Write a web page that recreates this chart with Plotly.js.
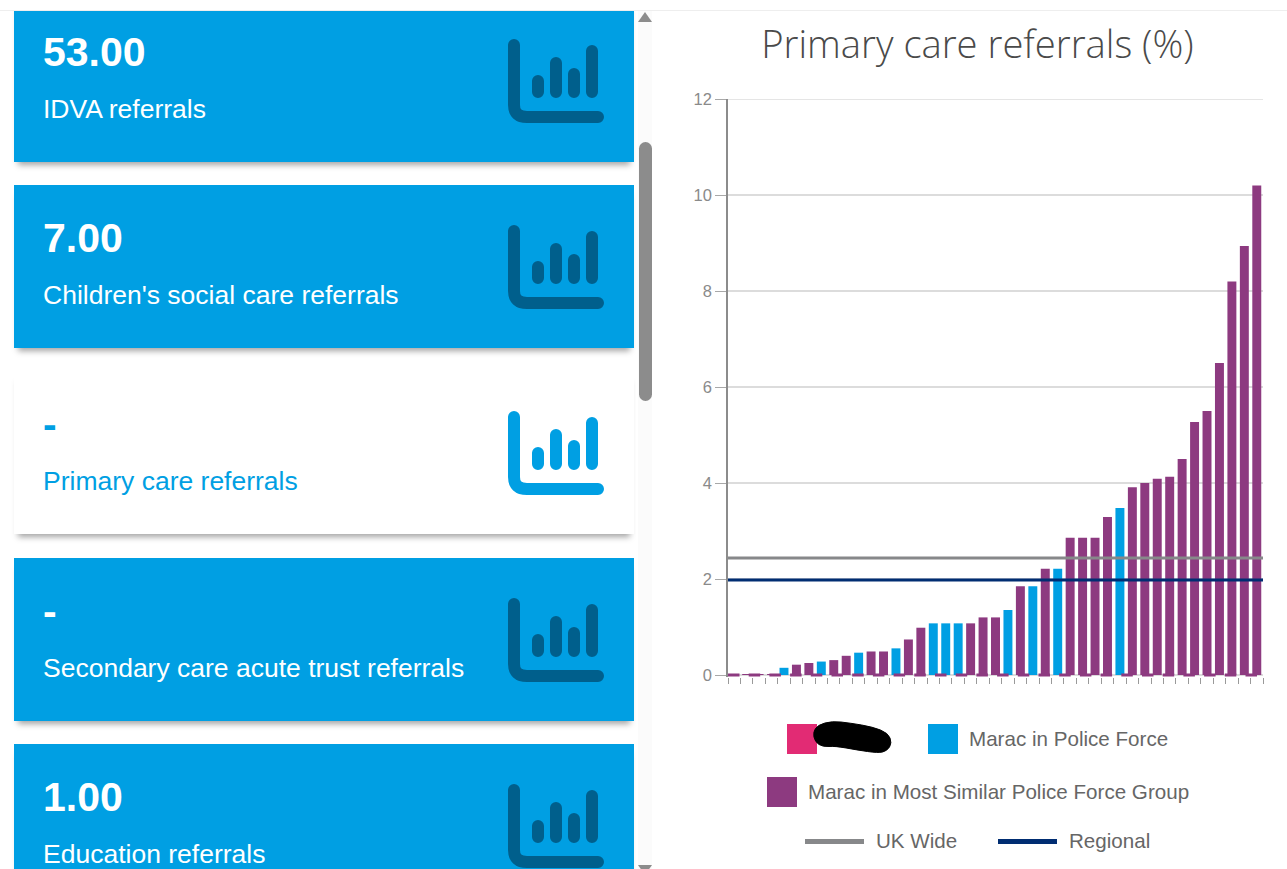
<!DOCTYPE html>
<html><head><meta charset="utf-8">
<script src="https://cdn.plot.ly/plotly-3.0.1.min.js"></script>
<style>
html,body{margin:0;padding:0;background:#fff;width:1287px;height:869px;overflow:hidden;font-family:"Liberation Sans",Arial,sans-serif}
#topline{position:absolute;left:0;top:0;width:1287px;height:10px;background:#fff;border-bottom:1px solid #eee;z-index:3}
#cards{position:absolute;left:0;top:11px;width:636px;height:858px;overflow:hidden}
.card{position:absolute;left:14px;width:620px;height:163px;background:#009fe3;color:#fff;box-shadow:0 7px 6px -4px rgba(0,0,0,.36)}
.card.sel{background:#fff;color:#009fe3}
.val{position:absolute;left:29px;top:30px;font-size:41px;font-weight:700;line-height:46px}
.lab{position:absolute;left:29px;top:94px;font-size:26.5px;line-height:32px;white-space:nowrap}
.card svg{position:absolute;left:490px;top:36px}
#track{position:absolute;left:638px;top:11px;width:14px;height:858px;background:#fbfbfb}
#thumb{position:absolute;left:639px;top:142px;width:13px;height:259px;border-radius:7px;background:#8c8c8c}
.arrow{position:absolute;left:638px;width:0;height:0;border-left:7px solid transparent;border-right:7px solid transparent}
#chart{position:absolute;left:660px;top:0;width:627px;height:869px}
</style></head><body>
<div id="topline"></div>
<div id="cards"></div>
<div id="track"></div><div id="thumb"></div>
<div class="arrow" style="top:12px;border-bottom:10px solid #8c8c8c"></div>
<div class="arrow" style="top:865px;border-top:10px solid #8c8c8c"></div>
<div id="chart"></div>
<script>
// Cards
const cardValues = ["53.00", "7.00", "-", "-", "1.00"];
const cardLabels = ["IDVA referrals", "Children's social care referrals", "Primary care referrals", "Secondary care acute trust referrals", "Education referrals"];
const selectedCard = 2;

// Chart data
const chartTitle = "Primary care referrals (%)";
const values = [0.02,0.02,0.02,0.02,0.15,0.215,0.25,0.28,0.31,0.40,0.465,0.49,0.49,0.555,0.74,0.985,1.076,1.076,1.076,1.076,1.20,1.20,1.354,1.85,1.85,2.215,2.215,2.86,2.86,2.86,3.29,3.48,3.91,4.0,4.09,4.13,4.5,5.27,5.5,6.5,8.2,8.94,10.2];
const inPoliceForce = [0,0,0,0,1,0,0,1,0,0,1,0,0,1,0,0,1,1,1,0,0,0,1,0,1,0,1,0,0,0,0,1,0,0,0,0,0,0,0,0,0,0,0];
const ukWide = 2.44;
const regional = 1.98;
const yTicks = [0,2,4,6,8,10,12];
const legendPolice = "Marac in Police Force";
const legendSimilar = "Marac in Most Similar Police Force Group";
const legendUK = "UK Wide";
const legendRegional = "Regional";

const cBlue="#009fe3", cPurple="#8d3a80", cPink="#e22b74", cGrey="#87888a", cNavy="#002d72";

// Build cards
const host=document.getElementById('cards');
cardValues.forEach((v,i)=>{
  const d=document.createElement('div');
  d.className='card'+(i===selectedCard?' sel':'');
  d.style.top=(-12+186*i+(i>2?1:0))+'px';
  const ic=i===selectedCard?cBlue:'#005f8c';
  d.innerHTML=`<div class="val">${v}</div><div class="lab">${cardLabels[i]}</div>`+
   `<svg width="110" height="95" viewBox="0 0 110 95" fill="none" stroke="${ic}" stroke-width="12" stroke-linecap="round">
     <path d="M10 10V70Q10 82 23 82H94"/>
     <path d="M34 46V57M52 28V57M70 39V57M88 16V57"/></svg>`;
  host.appendChild(d);
});

// Chart: the plot area runs 2px below the zero line so the baseline dashes are not clipped
const L=728,R=1263,T=99,B=677;
const X=p=>(p-L)/(R-L), Y=p=>(B-p)/(B-T);
const idx=values.map((_,i)=>i);
const pick=f=>idx.filter(f);
const blueIdx=pick(i=>inPoliceForce[i]===1), purpleIdx=pick(i=>inPoliceForce[i]===0);
const span=[-0.5,values.length-0.5];
const barTrace=(ids,color,name)=>({type:'bar',name,x:ids,y:ids.map(i=>values[i]),marker:{color,line:{width:0}},hoverinfo:'y'});
const hline=(v,color,name)=>({type:'scatter',mode:'lines',name,x:span,y:[v,v],line:{color,width:3},hoverinfo:'name'});
const traces=[
  barTrace(purpleIdx,cPurple,legendSimilar),
  barTrace(blueIdx,cBlue,legendPolice),
  {type:'scatter',mode:'lines',x:span,y:[0,0],line:{color:cPurple,width:3,dash:'11.5px,9.2px'},hoverinfo:'skip'},
  hline(ukWide,cGrey,legendUK),
  hline(regional,cNavy,legendRegional)
];
const swatch=(x0,y0,color)=>({type:'rect',xref:'paper',yref:'paper',x0:X(x0),x1:X(x0+30),y0:Y(y0+30),y1:Y(y0),fillcolor:color,line:{width:0},layer:'above'});
const seg=(x0,color)=>({type:'rect',xref:'paper',yref:'paper',x0:X(x0),x1:X(x0+59),y0:Y(844),y1:Y(839),fillcolor:color,line:{width:0},layer:'above'});
// redaction scribble outline, smoothed through midpoints
const pts=[[818,725],[832,721],[850,723],[873,727],[888,733],[892,743],[887,751],[878,753],[857,750],[835,746],[823,747],[815,742],[813,732]];
const mid=(a,b)=>[(a[0]+b[0])/2,(a[1]+b[1])/2];
const fmt=p=>X(p[0]).toFixed(4)+','+Y(p[1]).toFixed(4);
let scribble='M'+fmt(mid(pts[pts.length-1],pts[0]));
pts.forEach((p,i)=>{scribble+=' Q'+fmt(p)+' '+fmt(mid(p,pts[(i+1)%pts.length]));});
scribble+=' Z';
const note=(x,y,text)=>({xref:'paper',yref:'paper',x:X(x),y:Y(y),text,showarrow:false,xanchor:'left',yanchor:'middle',font:{family:'Liberation Sans, Arial, sans-serif',size:20.6,color:'#666'}});
const layout={
  width:627,height:869,autosize:false,
  paper_bgcolor:'rgba(0,0,0,0)',plot_bgcolor:'rgba(0,0,0,0)',
  margin:{l:68,r:24,t:99,b:192,pad:0},
  showlegend:false,barmode:'overlay',bargap:0.28,
  title:{text:chartTitle,x:317.5/627,xanchor:'center',y:1-45/869,yanchor:'middle',font:{family:'Open Sans, sans-serif',weight:300,size:38.2,color:'#4a4a4a'}},
  xaxis:{range:span,tick0:0.5,dtick:1,showticklabels:false,ticks:'outside',ticklen:6,tickcolor:'#9a9a9a',tickwidth:1.2,showgrid:false,zeroline:false,showline:false,layer:'below traces',fixedrange:true},
  yaxis:{range:[-2/48,12],tickmode:'array',tickvals:yTicks,ticktext:yTicks.map(String),ticks:'outside',ticklen:11,tickcolor:'#a8a8a8',tickwidth:1,tickfont:{family:'Liberation Sans, Arial, sans-serif',size:16.5,color:'#8a8a8a'},gridcolor:'#dcdcdc',gridwidth:1.5,zeroline:false,showline:true,linecolor:'#8c8c8c',linewidth:1.5,fixedrange:true},
  shapes:[
    {type:'line',xref:'paper',yref:'y',x0:0,x1:1,y0:12,y1:12,line:{color:'#dcdcdc',width:1.5},layer:'below'},
    {type:'line',xref:'paper',yref:'y',x0:0,x1:1,y0:0,y1:0,line:{color:'#a8a8a8',width:1.5},layer:'below'},
    swatch(787,724,cPink),swatch(928,724,cBlue),swatch(767,777,cPurple),seg(805,cGrey),seg(998,cNavy),
    {type:'path',xref:'paper',yref:'paper',path:scribble,fillcolor:'#000',line:{color:'#000',width:1},layer:'above'}],
  annotations:[note(967,738.5,legendPolice),note(806,791.5,legendSimilar),note(874,840.5,legendUK),note(1067,840.5,legendRegional)]
};
Plotly.newPlot('chart',traces,layout,{displayModeBar:false,responsive:false});
</script>
</body></html>
